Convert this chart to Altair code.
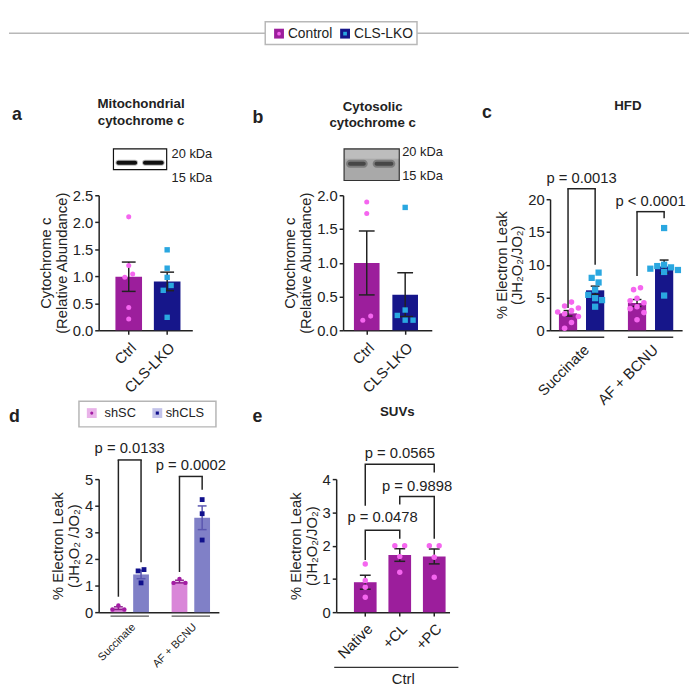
import altair as alt
import pandas as pd

FONT = "Liberation Sans"
INK = "#222222"

# ---------------- data ----------------
legend_groups = ["Control", "CLS-LKO"]

a_cats = ["Ctrl", "CLS-LKO"]
a_ctrl = [2.10, 1.20, 1.04, 0.98, 0.42, 0.21]
a_lko = [1.49, 1.15, 0.98, 0.83, 0.74, 0.24]

b_cats = ["Ctrl", "CLS-LKO"]
b_ctrl = [1.90, 1.73, 0.21, 0.15]
b_lko = [1.82, 0.30, 0.22, 0.15, 0.15]

c_conds = ["Succinate", "AF + BCNU"]
c_groups = ["Control", "CLS-LKO"]
c_succ_ctrl = [4.3, 3.7, 3.4, 3.0, 2.8, 2.5, 2.1, 1.2, 0.3]
c_succ_lko = [8.8, 8.0, 7.3, 6.2, 5.4, 4.9, 4.6, 3.6]
c_af_ctrl = [6.5, 6.2, 4.9, 4.5, 4.2, 3.6, 3.3, 2.7, 1.6]
c_af_lko = [15.6, 10.0, 9.8, 9.6, 9.4, 9.2, 8.9, 5.3]
c_p_labels = ["p = 0.0013", "p < 0.0001"]
c_p_top = [21.6, 18.1]
c_p_left = [3.4, 8.3]
c_p_right = [10.0, 17.1]
c_p_text = [23.2, 19.7]

d_conds = ["Succinate", "AF + BCNU"]
d_groups = ["shSC", "shCLS"]
d_succ_sh = [0.25, 0.10, 0.10]
d_succ_cls = [1.60, 1.55, 1.10]
d_af_sh = [1.25, 1.10, 1.10]
d_af_cls = [4.23, 3.70, 2.71]
d_p_labels = ["p = 0.0133", "p = 0.0002"]
d_p_top = [5.72, 5.10]
d_p_left = [0.58, 1.51]
d_p_right = [1.88, 4.60]
d_p_text = [6.15, 5.53]

e_cats = ["Native", "+CL", "+PC"]
e_native = [1.45, 0.95, 0.75, 0.45]
e_cl = [2.0, 2.0, 1.67, 1.2]
e_pc = [2.0, 2.0, 1.65, 1.05]
e_p_labels = ["p = 0.0478", "p = 0.9898", "p = 0.0565"]
e_p_from = ["Native", "+CL", "Native"]
e_p_to = ["+CL", "+PC", "+PC"]
e_p_top = [2.46, 3.48, 4.45]
e_p_left = [1.57, 3.24, 3.20]
e_p_right = [2.21, 2.21, 4.20]
e_p_text = [2.86, 3.80, 4.79]

# ---------------- styles ----------------
CTRL_BAR, LKO_BAR = "#9c1e9c", "#16168a"
CTRL_PT, LKO_PT = "#f566ef", "#2aa7e0"
SH_BAR, SHCLS_BAR = "#d986d8", "#8080c7"
SH_PT, SHCLS_PT = "#a31da3", "#10108c"
SH_ERR, SHCLS_ERR = "#8c1f8c", "#5a56b0"
SH_LEG, SHCLS_LEG = "#e9b3e9", "#c3c3ea"

dummy = pd.DataFrame({"k": [0]})


def band_params(W, first, step, bar, n):
    pi = 1 - bar / step
    span = step * (n - pi)
    po = (W / step - (n - pi)) / 2
    al = first / (W - span)
    return {"paddingInner": pi, "paddingOuter": po, "align": al, "range": [0, W]}


def slots(vals, ppu, gap):
    order = sorted(range(len(vals)), key=lambda i: -vals[i])
    placed, out = [], [0.0] * len(vals)
    for i in order:
        for s in (0, -1, 1, -2, 2, -3, 3, -4, 4):
            if all(ps != s or abs(vals[i] - pv) * ppu >= gap for pv, ps in placed):
                break
        placed.append((vals[i], s))
        out[i] = float(s)
    idx = sorted(range(len(vals)), key=lambda i: vals[i])
    clusters, cur = [], [idx[0]]
    for p, q in zip(idx, idx[1:]):
        if (vals[q] - vals[p]) * ppu < gap:
            cur.append(q)
        else:
            clusters.append(cur)
            cur = [q]
    clusters.append(cur)
    for cl in clusters:
        c0 = (max(out[i] for i in cl) + min(out[i] for i in cl)) / 2
        for i in cl:
            out[i] -= c0
    return out


def txt(text, x, y, size=15, bold=False, align="center", baseline="middle", color=INK):
    return alt.Chart(dummy).mark_text(
        text=text, font=FONT, fontSize=size, fontWeight="bold" if bold else "normal",
        align=align, baseline=baseline, color=color,
    ).encode(x=alt.value(x), y=alt.value(y))


def rect(x1, y1, x2, y2, fill, stroke=None, sw=1.0, radius=0, opacity=1.0):
    kw = dict(fill=fill, opacity=opacity, cornerRadius=radius)
    if stroke:
        kw.update(stroke=stroke, strokeWidth=sw)
    else:
        kw.update(strokeWidth=0)
    return alt.Chart(dummy).mark_rect(**kw).encode(
        x=alt.value(x1), x2=alt.value(x2), y=alt.value(y1), y2=alt.value(y2))


def sym(x, y, shape, size, color):
    return alt.Chart(dummy).mark_point(shape=shape, size=size, color=color, filled=True, opacity=1).encode(
        x=alt.value(x), y=alt.value(y))


def hrule(x1, x2, y, color=INK, sw=1.5):
    return alt.Chart(dummy).mark_rule(color=color, strokeWidth=sw).encode(
        x=alt.value(x1), x2=alt.value(x2), y=alt.value(y))


def spacer(w, h):
    return alt.Chart(dummy).mark_point(opacity=0, size=0, strokeWidth=0).encode(
        x=alt.value(1), y=alt.value(1)).properties(width=w, height=h)


def make_panel(conds, groups, series, colors, W, H, cell_w, ydom, yvals, yfmt, ytitle,
               outer, bw, step, inner=None, yrange=None, xfs=15, xpad=6, xticks=True,
               pt_sizes=(30, 30), shapes=("circle", "square"), dxu=8, gap=6.5, cap=12,
               gbrackets=None, sbrackets=None, uline=None, extra=()):
    grouped = groups is not None
    gdom = groups if grouped else conds
    rng = yrange if yrange else [H, 0]
    ppu = (rng[0] - rng[1]) / (ydom[1] - ydom[0])
    rows = []
    for (cond, grp), vals in series:
        for v, s in zip(vals, slots(vals, ppu, gap)):
            rows.append({"cond": cond, "grp": grp, "v": v, "slot": s})
    df = pd.DataFrame(rows)

    if grouped:
        bar_in, s_in = inner
        pin = 1 - bar_in / s_in
        base = {g: (k * s_in + bar_in / 2) / bw for k, g in enumerate(groups)}
        off_scale = alt.Scale(domain=groups, paddingInner=pin, paddingOuter=0)
    else:
        base = {g: 0.5 for g in conds}

    xs = alt.Scale(domain=conds, **outer)
    ys = alt.Scale(domain=ydom, range=rng, nice=False, zero=False)
    xax = alt.Axis(title=None, labelAngle=-45, labelAlign="right", labelBaseline="top",
                   labelFont=FONT, labelFontSize=xfs, labelColor=INK, labelPadding=xpad,
                   ticks=xticks, tickSize=4 if xticks else 0, tickColor=INK, tickWidth=1.5,
                   domainColor=INK, domainWidth=1.5, grid=False, labelOverlap=False)
    yax = alt.Axis(title=ytitle, values=yvals, format=yfmt, grid=False,
                   domainColor=INK, domainWidth=1.5, tickColor=INK, tickWidth=1.5, tickSize=4,
                   labelFont=FONT, labelFontSize=15, labelColor=INK, labelPadding=2,
                   titleFont=FONT, titleFontSize=15, titleFontWeight="normal", titleColor=INK,
                   titlePadding=3, titleLineHeight=16)

    def X(bp=None):
        kw = {"scale": xs, "axis": xax}
        if bp is not None:
            kw["bandPosition"] = bp
        return alt.X("cond:N", **kw)

    def Y(f):
        return alt.Y(f, scale=ys, axis=yax)

    benc = dict(x=X(), y=Y("mean(v):Q"),
                color=alt.Color("grp:N", scale=alt.Scale(domain=gdom, range=colors["bar"]), legend=None))
    if grouped:
        benc["xOffset"] = alt.XOffset("grp:N", scale=off_scale)
    layers = [alt.Chart(df).mark_bar().encode(**benc)]

    if uline is not None:
        uy, ucol, uw = uline
        layers.append(alt.Chart(pd.DataFrame({"cond": conds})).mark_bar(color=ucol, height=uw).encode(
            x=X(), y=alt.value(uy)))

    agg = alt.Chart(df).transform_aggregate(
        m="mean(v)", se="stderr(v)", groupby=["cond", "grp"]
    ).transform_calculate(lo="datum.m - datum.se", hi="datum.m + datum.se")
    for k, g in enumerate(gdom):
        sub = agg.transform_filter(alt.datum.grp == g)
        col = colors["err"][k]
        layers.append(sub.mark_rule(color=col, strokeWidth=1.5).encode(
            x=X(base[g]), y=Y("lo:Q"), y2=alt.Y2("hi")))
        for f in ("lo", "hi"):
            layers.append(sub.mark_point(shape="stroke", size=cap * cap, color=col, strokeWidth=1.5,
                                         filled=False, opacity=1).encode(
                x=X(base[g]), y=Y(f + ":Q")))

    for k, g in enumerate(gdom):
        for s in sorted(set(df.loc[df.grp == g, "slot"])):
            layers.append(
                alt.Chart(df).transform_filter((alt.datum.grp == g) & (alt.datum.slot == float(s)))
                .mark_point(shape=shapes[k], filled=True, color=colors["pt"][k],
                            size=pt_sizes[k], opacity=1, xOffset=float(s * dxu))
                .encode(x=X(base[g]), y=Y("v:Q")))

    if gbrackets is not None:
        labels, top, left, right, ty = gbrackets
        bdf = pd.DataFrame({"cond": conds, "top": top, "left": left, "right": right,
                            "ty": ty, "label": labels})
        f0, f1 = base[groups[0]], base[groups[1]]
        span = (f1 - f0) * bw + 1.5
        layers += [
            alt.Chart(bdf).mark_rule(color=INK, strokeWidth=1.5).encode(
                x=X(f0), y=Y("left:Q"), y2=alt.Y2("top")),
            alt.Chart(bdf).mark_rule(color=INK, strokeWidth=1.5).encode(
                x=X(f1), y=Y("right:Q"), y2=alt.Y2("top")),
            alt.Chart(bdf).mark_point(shape="stroke", size=span * span, color=INK, strokeWidth=1.5,
                                      filled=False, opacity=1).encode(
                x=X((f0 + f1) / 2), y=Y("top:Q")),
            alt.Chart(bdf).mark_text(font=FONT, fontSize=15, color=INK, baseline="middle").encode(
                x=X((f0 + f1) / 2), y=Y("ty:Q"), text="label:N"),
        ]

    if sbrackets is not None:
        labels, frm, to, top, left, right, ty = sbrackets
        prow = []
        for i in range(len(labels)):
            prow += [
                {"id": i, "seq": 0, "cond": frm[i], "y": left[i]},
                {"id": i, "seq": 1, "cond": frm[i], "y": top[i]},
                {"id": i, "seq": 2, "cond": to[i], "y": top[i]},
                {"id": i, "seq": 3, "cond": to[i], "y": right[i]},
            ]
        layers.append(alt.Chart(pd.DataFrame(prow)).mark_line(color=INK, strokeWidth=1.5).encode(
            x=X(), y=Y("y:Q"), detail="id:N", order="seq:Q"))
        for i in range(len(labels)):
            k = conds.index(to[i]) - conds.index(frm[i])
            tdf = pd.DataFrame({"cond": [frm[i]], "ty": [ty[i]], "label": [labels[i]]})
            layers.append(alt.Chart(tdf).mark_text(font=FONT, fontSize=15, color=INK, baseline="middle",
                                                   dx=k * step / 2).encode(
                x=X(), y=Y("ty:Q"), text="label:N"))

    return alt.layer(*layers, *extra).properties(width=cell_w, height=H)


# ---------------- panels ----------------
pa = make_panel(
    a_cats, None, [(("Ctrl", "Ctrl"), a_ctrl), (("CLS-LKO", "CLS-LKO"), a_lko)],
    dict(bar=[CTRL_BAR, LKO_BAR], pt=[CTRL_PT, LKO_PT], err=[INK, INK]),
    W=95, H=137, cell_w=241, ydom=[0, 2.5], yvals=[0, 0.5, 1, 1.5, 2, 2.5], yfmt=".1f",
    ytitle=["Cytochrome c", "(Relative Abundance)"],
    outer=band_params(95, 17, 39, 27, 2), bw=27, step=39, xpad=6,
    pt_sizes=(26, 30), dxu=8, cap=14,
    extra=[
        txt("a", -88, -76, 18, True, "left", "alphabetic"),
        txt("Mitochondrial", 43, -93, 13.5, True),
        txt("cytochrome  c", 43, -75, 13.5, True),
        rect(15, -47, 69, -26, "white", "#111111", 1.2),
        rect(17, -36, 40, -30, "#888888", radius=3, opacity=0.6),
        rect(44, -36, 67, -30, "#888888", radius=3, opacity=0.6),
        rect(18, -35, 39, -31, "#111111", radius=2),
        rect(45, -35, 66, -31, "#111111", radius=2),
        txt("20 kDa", 74, -42, 13, False, "left"),
        txt("15 kDa", 74, -17, 13, False, "left"),
    ],
)

pb = make_panel(
    b_cats, None, [(("Ctrl", "Ctrl"), b_ctrl), (("CLS-LKO", "CLS-LKO"), b_lko)],
    dict(bar=[CTRL_BAR, LKO_BAR], pt=[CTRL_PT, LKO_PT], err=[INK, INK]),
    W=90, H=137, cell_w=210, ydom=[0, 2.0], yvals=[0, 0.5, 1, 1.5, 2], yfmt=".1f",
    ytitle=["Cytochrome c", "(Relative Abundance)"],
    outer=band_params(90, 11, 39, 26, 2), bw=26, step=39, xpad=6,
    pt_sizes=(26, 30), dxu=8, cap=16,
    extra=[
        txt("b", -92, -73, 18, True, "left", "alphabetic"),
        txt("Cytosolic", 30, -90, 13.5, True),
        txt("cytochrome  c", 30, -73, 13.5, True),
        rect(1, -47, 57, -15, "#a9a9a9", "#333333", 1.2),
        rect(2, -46, 56, -37, "#bdbdbd"),
        rect(3, -36, 25, -28, "#6a6a6a", radius=4, opacity=0.7),
        rect(30, -36, 53, -28, "#6a6a6a", radius=4, opacity=0.7),
        rect(5, -34, 23, -30, "#3a3a3a", radius=2, opacity=0.8),
        rect(32, -34, 51, -30, "#3a3a3a", radius=2, opacity=0.8),
        txt("20 kDa", 60, -44, 13, False, "left"),
        txt("15 kDa", 60, -19, 13, False, "left"),
    ],
)

pc = make_panel(
    c_conds, c_groups,
    [(("Succinate", "Control"), c_succ_ctrl), (("Succinate", "CLS-LKO"), c_succ_lko),
     (("AF + BCNU", "Control"), c_af_ctrl), (("AF + BCNU", "CLS-LKO"), c_af_lko)],
    dict(bar=[CTRL_BAR, LKO_BAR], pt=[CTRL_PT, LKO_PT], err=[INK, INK]),
    W=134, H=137, cell_w=134, ydom=[0, 20], yvals=[0, 5, 10, 15, 20], yfmt="d",
    ytitle=["% Electron Leak", "(JH₂O₂/JO₂)"], yrange=[137, 4],
    outer=band_params(134, 9, 70, 46, 2), bw=46, step=70, inner=(18.5, 27.5),
    xpad=12, xticks=False, pt_sizes=(32, 40), dxu=7, cap=9,
    gbrackets=(c_p_labels, c_p_top, c_p_left, c_p_right, c_p_text),
    uline=(144, "#333333", 1.5),
    extra=[
        txt("c", -69, -78, 18, True, "left", "alphabetic"),
        txt("HFD", 79, -91, 13.5, True),
    ],
)

pd_ = make_panel(
    d_conds, d_groups,
    [(("Succinate", "shSC"), d_succ_sh), (("Succinate", "shCLS"), d_succ_cls),
     (("AF + BCNU", "shSC"), d_af_sh), (("AF + BCNU", "shCLS"), d_af_cls)],
    dict(bar=[SH_BAR, SHCLS_BAR], pt=[SH_PT, SHCLS_PT], err=[SH_ERR, SHCLS_ERR]),
    W=122, H=135, cell_w=241, ydom=[0, 5], yvals=[0, 1, 2, 3, 4, 5], yfmt="d",
    ytitle=["% Electron Leak", "(JH₂O₂ /JO₂)"],
    outer=band_params(122, 12, 62, 39, 2), bw=39, step=62, inner=(16, 23),
    xfs=11, xpad=9, xticks=False, pt_sizes=(20, 24), dxu=6, cap=9,
    gbrackets=(d_p_labels, d_p_top, d_p_left, d_p_right, d_p_text),
    uline=(139, "#555555", 1.2),
    extra=[
        txt("d", -91, -58, 18, True, "left", "alphabetic"),
        rect(-20, -79, 119, -53, "white", "#b5b5b5", 1.5),
        sym(-7, -67, "square", 100, SH_LEG), sym(-7, -67, "circle", 10, SH_PT),
        txt(d_groups[0], 6, -67, 13, False, "left"),
        sym(59.5, -67, "square", 100, SHCLS_LEG), sym(59.5, -67, "square", 10, SHCLS_PT),
        txt(d_groups[1], 68, -67, 13, False, "left"),
    ],
)

pe = make_panel(
    e_cats, None, [(("Native", "Native"), e_native), (("+CL", "+CL"), e_cl), (("+PC", "+PC"), e_pc)],
    dict(bar=[CTRL_BAR] * 3, pt=[CTRL_PT] * 3, err=[INK] * 3),
    W=115, H=135, cell_w=7, ydom=[0, 4], yvals=[0, 1, 2, 3, 4], yfmt="d",
    ytitle=["% Electron Leak", "(JH₂O₂/JO₂)"],
    outer=band_params(115, 18, 35, 23, 3), bw=23, step=35, xpad=5,
    shapes=("circle", "circle", "circle"), pt_sizes=(30, 30, 30), dxu=10, cap=11,
    sbrackets=(e_p_labels, e_p_from, e_p_to, e_p_top, e_p_left, e_p_right, e_p_text),
    extra=[
        txt("e", -85, -58, 18, True, "left", "alphabetic"),
        txt("SUVs", 62, -68, 13.5, True),
        hrule(-2, 124, 191, "#333333", 1.2),
        txt("Ctrl", 68, 203, 15),
    ],
)

header = alt.layer(
    hrule(0, 690, 20.5, "#b8b8b8", 1.5),
    rect(260, 9, 414, 32, "white", "#b8b8b8", 1.5),
    sym(274, 21, "square", 100, CTRL_BAR), sym(274, 21, "circle", 14, CTRL_PT),
    txt(legend_groups[0], 283, 21, 14, False, "left"),
    sym(341, 21, "square", 100, LKO_BAR), sym(341, 21, "square", 14, LKO_PT),
    txt(legend_groups[1], 350, 21, 14, False, "left"),
).properties(width=91, height=34)

# grid columns start at 0, 91, 332, 339, 549 (pixels)
cells = [
    header, spacer(241, 34), spacer(7, 34), spacer(210, 34), spacer(134, 34),
    spacer(91, 137), pa, spacer(7, 137), pb, pc,
    spacer(91, 135), pd_, pe, spacer(210, 135), spacer(134, 135),
]

chart = alt.concat(*cells, columns=5).properties(
    bounds="flush", align="each", spacing={"row": 151, "column": 0}, padding=0,
).resolve_scale(
    color="independent", xOffset="independent", x="independent", y="independent",
).configure(font=FONT, background="white").configure_view(strokeWidth=0, stroke="transparent")

chart.save("out.html", embed_options={"renderer": "svg", "actions": False})
